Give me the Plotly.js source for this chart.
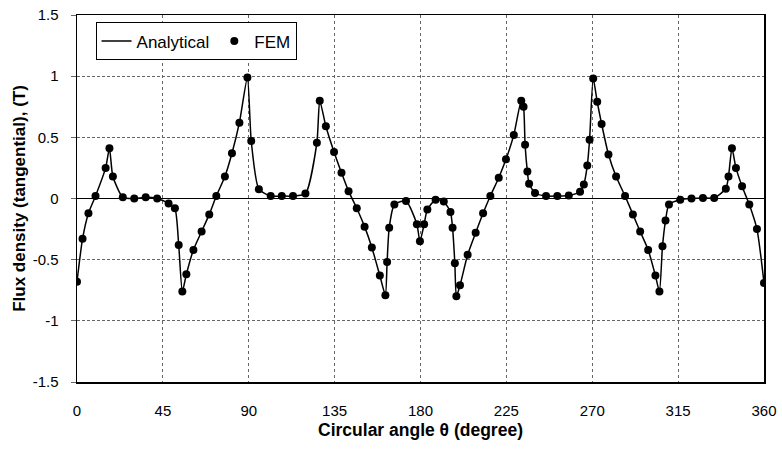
<!DOCTYPE html>
<html>
<head>
<meta charset="utf-8">
<script src="https://cdn.plot.ly/plotly-3.0.1.min.js"></script>
<style>html,body{margin:0;padding:0;background:#fff;}#chart{width:782px;height:451px;}</style>
</head>
<body>
<div id="chart"></div>
<script>
const theta = [0,2.9,6,9.7,15,17,18.8,24,30,36,42,48,51.3,53.3,55.2,57.3,61,65.3,69.3,73,77.5,81.2,85.1,89.3,91.3,95.3,101.5,107.3,113.2,119.7,125.7,127.2,130.4,134.7,138.6,142.3,146.6,150.7,154.5,158.7,161.6,162.5,163.6,166.3,172.4,178.1,179.7,181.9,183.6,187.9,192.2,195.7,196.8,198.0,198.8,200.7,204.7,208.9,212.8,216.6,221,224.8,228.9,232.8,234.0,234.8,236.0,236.9,240,245.8,251.7,257.7,263.6,265.6,267.4,268.6,270.5,272.6,274.9,278.5,282.5,287.2,291.3,295.1,299.3,303.1,305.2,306.8,308.4,310.2,316.1,322,328,333.9,340,341.4,343.2,345.3,348.5,352.3,356.3,360];
const fluxFEM = [-0.68,-0.33,-0.12,0.02,0.25,0.41,0.18,0.01,0.0,0.01,0.0,-0.04,-0.08,-0.38,-0.76,-0.62,-0.42,-0.27,-0.13,0.02,0.18,0.37,0.62,0.99,0.47,0.076,0.02,0.02,0.02,0.04,0.455,0.80,0.59,0.38,0.21,0.06,-0.08,-0.23,-0.40,-0.63,-0.79,-0.52,-0.24,-0.05,-0.02,-0.21,-0.35,-0.21,-0.09,-0.01,-0.025,-0.11,-0.24,-0.53,-0.80,-0.71,-0.46,-0.28,-0.12,0.02,0.17,0.32,0.52,0.80,0.75,0.44,0.22,0.12,0.045,0.02,0.02,0.025,0.055,0.115,0.27,0.48,0.98,0.79,0.61,0.36,0.18,0.02,-0.13,-0.27,-0.42,-0.63,-0.76,-0.39,-0.18,-0.05,-0.01,0.0,0.005,0.005,0.08,0.18,0.41,0.25,0.10,-0.05,-0.25,-0.69];
const fluxAnalytical = fluxFEM.slice();
const xTicks = [0,45,90,135,180,225,270,315,360];
const yTicks = [-1.5,-1,-0.5,0,0.5,1,1.5];
const yTickText = ["-1.5","-1","-0.5","0","0.5","1","1.5"];

const font = "Liberation Sans, Arial, sans-serif";
const traces = [
  {x: theta, y: fluxAnalytical, type: 'scatter', mode: 'lines', name: 'Analytical',
   line: {color: '#000', width: 1.5, shape: 'spline', smoothing: 0.6}},
  {x: theta, y: fluxFEM, type: 'scatter', mode: 'markers', name: 'FEM',
   marker: {color: '#000', size: 8}}
];
const layout = {
  width: 782, height: 451,
  margin: {l: 77, r: 18, t: 15, b: 69},
  paper_bgcolor: '#fff', plot_bgcolor: '#fff',
  font: {family: font, size: 15, color: '#000'},
  showlegend: true,
  legend: {x: 0.027, y: 0.98, xanchor: 'left', yanchor: 'top', orientation: 'h',
    bgcolor: '#fff', bordercolor: '#000', borderwidth: 1, font: {size: 17, family: font},
    itemwidth: 30},
  xaxis: {range: [0, 360], tickvals: xTicks, ticks: '', ticklabelstandoff: 14,
    showline: true, linecolor: '#000', linewidth: 1.5, mirror: true,
    showgrid: true, gridcolor: '#666', griddash: 'dot', gridwidth: 1, zeroline: false,
    tickfont: {size: 15, family: font},
    title: {text: '<b>Circular angle θ (degree)</b>', font: {size: 17.5, family: font}, standoff: 6}},
  yaxis: {range: [-1.5, 1.5], tickvals: yTicks, ticktext: yTickText, ticks: 'outside', ticklen: 5, tickcolor: '#666',
    ticklabelstandoff: 9,
    showline: true, linecolor: '#000', linewidth: 1.5, mirror: true,
    showgrid: true, gridcolor: '#666', griddash: '3px,2px', gridwidth: 1,
    zeroline: true, zerolinecolor: '#000', zerolinewidth: 1,
    tickfont: {size: 15, family: font},
    title: {text: '<b>Flux density (tangential), (T)</b>', font: {size: 17, family: font}, standoff: 2}}
};
Plotly.newPlot('chart', traces, layout, {staticPlot: true, displayModeBar: false});
</script>
</body>
</html>
